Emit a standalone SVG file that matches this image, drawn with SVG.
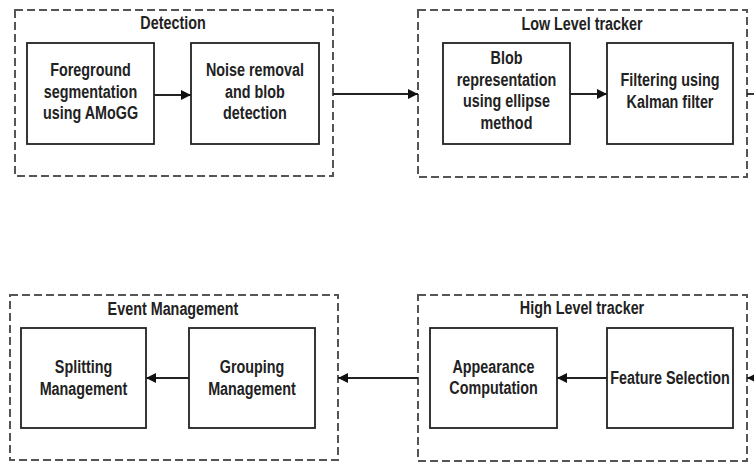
<svg xmlns="http://www.w3.org/2000/svg" width="754" height="462" viewBox="0 0 754 462">
<defs>
<style>
.grp{fill:none;stroke:#555;stroke-width:2;stroke-dasharray:8 4}
.box{fill:#fff;stroke:#222;stroke-width:1.8}
text{font-family:"Liberation Sans Narrow","Arial Narrow","Liberation Sans",sans-serif;font-weight:bold;font-size:17.5px;fill:#222;text-anchor:middle}
.conn{fill:none;stroke:#222;stroke-width:1.8}
</style>
<marker id="ah" viewBox="0 0 10 10" refX="10" refY="5" markerWidth="10" markerHeight="10" markerUnits="userSpaceOnUse" orient="auto">
<path d="M0,0 L10,5 L0,10 z" fill="#111"/>
</marker>
</defs>
<rect width="754" height="462" fill="#fff"/>

<g id="detection">
<rect class="grp" x="15" y="10" width="318" height="166"/>
<text transform="translate(173 29) scale(0.82 1)">Detection</text>
</g>
<g id="foreground">
<rect class="box" x="27" y="43" width="127" height="101"/>
<text transform="translate(90.5 76) scale(0.82 1)">Foreground</text>
<text transform="translate(90.5 98) scale(0.82 1)">segmentation</text>
<text transform="translate(90.5 119) scale(0.82 1)">using AMoGG</text>
</g>
<g id="noise">
<rect class="box" x="191" y="43" width="128" height="101"/>
<text transform="translate(255 76) scale(0.82 1)">Noise removal</text>
<text transform="translate(255 98) scale(0.82 1)">and blob</text>
<text transform="translate(255 119) scale(0.82 1)">detection</text>
</g>

<g id="lowlevel">
<rect class="grp" x="418" y="10" width="329" height="167"/>
<text transform="translate(582 30) scale(0.82 1)">Low Level tracker</text>
</g>
<g id="blob">
<rect class="box" x="443" y="43" width="127" height="101"/>
<text transform="translate(506.5 64) scale(0.82 1)">Blob</text>
<text transform="translate(506.5 86) scale(0.82 1)">representation</text>
<text transform="translate(506.5 107) scale(0.82 1)">using ellipse</text>
<text transform="translate(506.5 129) scale(0.82 1)">method</text>
</g>
<g id="filtering">
<rect class="box" x="607" y="43" width="126" height="101"/>
<text transform="translate(670 86) scale(0.82 1)">Filtering using</text>
<text transform="translate(670 108) scale(0.82 1)">Kalman filter</text>
</g>

<g id="event">
<rect class="grp" x="10" y="295" width="328" height="165"/>
<text transform="translate(173 315) scale(0.82 1)">Event Management</text>
</g>
<g id="splitting">
<rect class="box" x="21" y="328" width="125" height="100"/>
<text transform="translate(83.5 373) scale(0.82 1)">Splitting</text>
<text transform="translate(83.5 395) scale(0.82 1)">Management</text>
</g>
<g id="grouping">
<rect class="box" x="189" y="328" width="126" height="100"/>
<text transform="translate(252 373) scale(0.82 1)">Grouping</text>
<text transform="translate(252 395) scale(0.82 1)">Management</text>
</g>

<g id="highlevel">
<rect class="grp" x="418" y="295" width="329" height="166"/>
<text transform="translate(582 314) scale(0.82 1)">High Level tracker</text>
</g>
<g id="appearance">
<rect class="box" x="430" y="328" width="127" height="100"/>
<text transform="translate(493.5 373) scale(0.82 1)">Appearance</text>
<text transform="translate(493.5 394) scale(0.82 1)">Computation</text>
</g>
<g id="feature">
<rect class="box" x="607" y="328" width="126" height="100"/>
<text transform="translate(670 384) scale(0.82 1)">Feature Selection</text>
</g>

<g id="connectors">
<line class="conn" x1="154" y1="95" x2="191" y2="95" marker-end="url(#ah)"/>
<line class="conn" x1="333" y1="94" x2="418" y2="94" marker-end="url(#ah)"/>
<line class="conn" x1="570" y1="94" x2="607" y2="94" marker-end="url(#ah)"/>
<line class="conn" x1="747" y1="94" x2="754" y2="94"/>
<line class="conn" x1="758" y1="378" x2="747" y2="378" marker-end="url(#ah)"/>
<line class="conn" x1="607" y1="378" x2="557" y2="378" marker-end="url(#ah)"/>
<line class="conn" x1="418" y1="378" x2="338" y2="378" marker-end="url(#ah)"/>
<line class="conn" x1="189" y1="378" x2="146" y2="378" marker-end="url(#ah)"/>
</g>
</svg>
